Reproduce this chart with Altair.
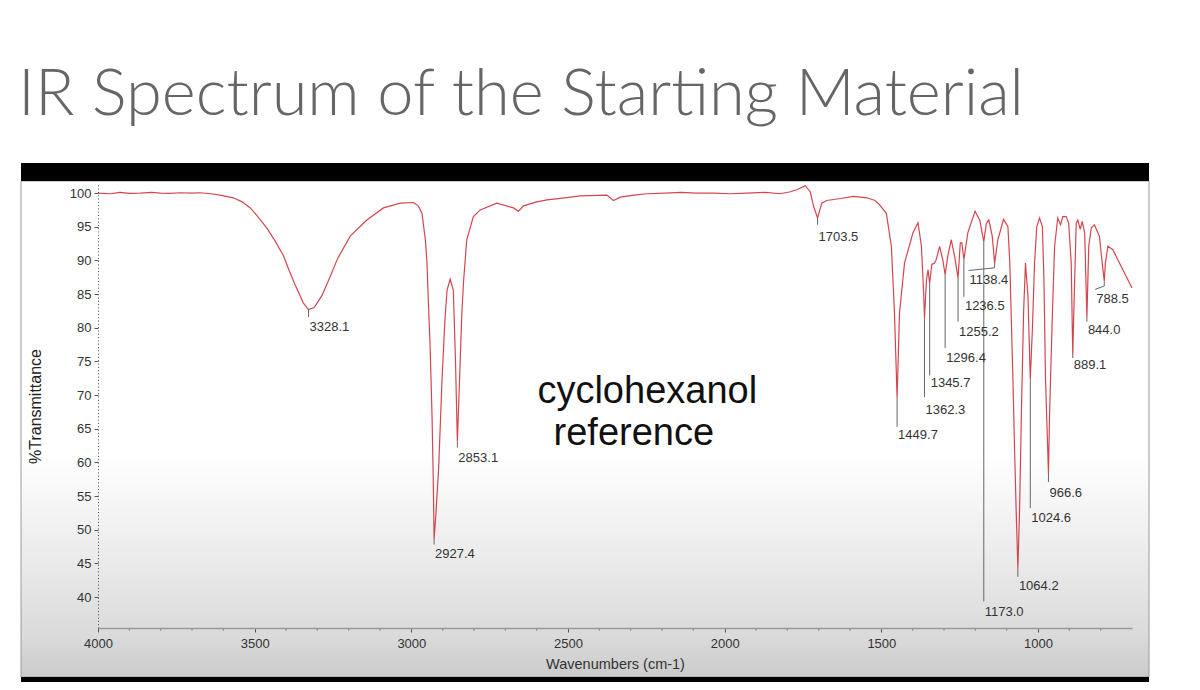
import altair as alt
import pandas as pd

# ---------------- text ----------------
title_text = "IR Spectrum of the Starting Material"
x_title = "Wavenumbers (cm-1)"
y_title = "%Transmittance"
annotation_lines = ["cyclohexanol", "reference"]
annotation_wn = [2247, 2290]
annotation_T = [68.8, 62.6]

# ---------------- spectrum (wavenumber, %T) ----------------
spectrum_wn = [
    4000, 3960, 3930, 3900, 3865, 3830, 3800, 3770, 3738, 3700, 3674, 3640, 3610,
    3568, 3540, 3514, 3490, 3461, 3435, 3408, 3390, 3371, 3345, 3328.1, 3310, 3285,
    3260, 3235, 3195, 3142, 3089, 3035, 2993, 2978, 2966, 2955, 2950, 2945, 2940,
    2934, 2930, 2927.4, 2922, 2913, 2902, 2893, 2886, 2876, 2866, 2859, 2853.1, 2846,
    2839, 2833, 2823, 2802, 2780, 2727, 2674, 2658, 2642, 2600, 2567, 2510, 2461,
    2376, 2355, 2333, 2290, 2248, 2190, 2140, 2090, 2036, 1980, 1929, 1870, 1823,
    1790, 1770, 1743, 1727, 1716, 1703.5, 1690, 1674, 1630, 1589, 1546, 1520, 1506,
    1484, 1468, 1458, 1449.7, 1442, 1426, 1399, 1383, 1372, 1364.5, 1362.3, 1356,
    1351, 1345.7, 1339, 1330, 1325, 1314, 1304, 1296.4, 1288, 1277, 1266, 1255.2,
    1248, 1243, 1236.5, 1224, 1201, 1186, 1173.0, 1165, 1157, 1146, 1138.4, 1128,
    1110, 1096, 1090, 1080, 1075, 1069.5, 1064.2, 1059, 1053, 1046, 1040, 1032,
    1024.6, 1018, 1011, 1004, 995, 986, 981, 976, 966.6, 963, 954, 947, 937, 928,
    921, 910, 902, 894, 889.1, 883, 878, 873, 865, 859, 851, 844.0, 838, 830, 820,
    804, 795, 788.5, 785, 777, 761, 740, 700,
]
spectrum_T = [
    100.0, 99.9, 100.1, 99.95, 100.0, 100.1, 100.0, 99.95, 100.05, 100.0, 100.05, 99.9, 99.7,
    99.3, 98.7, 97.8, 96.5, 94.8, 92.9, 90.7, 88.5, 86.4, 83.7, 82.7, 83.0, 84.8,
    87.5, 90.3, 93.6, 96.0, 97.8, 98.5, 98.6, 98.1, 97.0, 93.0, 89.6, 83.0, 77.2,
    67.0, 57.4, 48.6, 52.0, 59.0, 72.3, 81.0, 85.6, 87.2, 85.6, 75.0, 63.1, 72.3,
    82.0, 87.1, 93.1, 96.5, 97.5, 98.5, 97.8, 97.3, 98.1, 98.7, 99.0, 99.3, 99.6,
    99.7, 98.9, 99.4, 99.7, 99.9, 100.0, 100.1, 100.0, 100.0, 99.9, 100.0, 100.1, 99.9,
    100.2, 100.5, 101.1, 100.2, 98.0, 96.3, 98.5, 98.9, 99.2, 99.5, 99.3, 98.9, 98.3,
    97.0, 92.1, 82.2, 69.6, 82.2, 89.6, 94.1, 95.6, 92.1, 84.6, 81.4, 87.1,
    88.6, 86.6, 89.4, 89.6, 90.1, 92.1, 90.1, 87.9, 90.6, 93.1, 90.6, 87.4,
    92.6, 92.6, 90.1, 94.1, 97.3, 96.0, 92.8, 95.5, 96.0, 93.6, 89.6, 93.1,
    96.1, 95.0, 89.6, 72.3, 62.4, 52.5, 44.3, 52.5, 67.3, 82.2, 89.6, 84.6,
    72.3, 79.7, 89.6, 95.0, 96.3, 95.0, 87.1, 72.3, 58.4, 67.3, 82.2, 92.1, 96.3, 95.3,
    96.5, 96.5, 95.5, 89.6, 76.0, 87.1, 95.5, 96.0, 94.6, 95.8, 94.1, 81.5, 92.1, 94.8, 95.3,
    93.6, 89.6, 86.9, 89.6, 92.1, 91.6, 89.6, 85.9,
]

# ---------------- peak labels ----------------
peak_labels = ["3328.1", "2927.4", "2853.1", "1703.5", "1449.7", "1362.3", "1345.7",
               "1296.4", "1255.2", "1236.5", "1173.0", "1138.4", "1064.2", "1024.6",
               "966.6", "889.1", "844.0", "788.5"]
peak_wn = [3328.1, 2927.4, 2853.1, 1703.5, 1449.7, 1362.3, 1345.7, 1296.4, 1255.2,
           1236.5, 1173.0, 1138.4, 1064.2, 1024.6, 966.6, 889.1, 844.0, 788.5]
peak_tip_T = [82.7, 48.6, 63.1, 96.3, 69.6, 81.4, 86.6, 87.9, 87.4, 90.1, 92.8, 89.6,
              44.3, 72.3, 58.4, 76.0, 81.5, 86.9]
leader_end_T = [81.6, 47.8, 62.2, 95.3, 65.3, 69.7, 72.9, 77.0, 80.9, 84.6, 39.35, 88.9,
                43.0, 53.2, 57.1, 75.5, 80.9, 86.2]
label_wn = [3328.1, 2927.4, 2853.1, 1703.5, 1449.7, 1362.3, 1345.7, 1296.4, 1255.2,
            1236.5, 1173.0, 1221.8, 1064.2, 1024.6, 966.6, 889.1, 844.0, 817.4]
label_T = [80.07, 46.4, 60.6, 93.55, 64.1, 67.8, 71.8, 75.5, 79.3, 83.2, 37.85, 87.1,
           41.6, 51.7, 55.4, 74.5, 79.6, 84.3]

elbow_from_wn = [1138.4, 788.5]
elbow_from_T = [88.9, 86.2]
elbow_to_wn = [1221.8, 817.4]
elbow_to_T = [88.5, 85.7]

x_major = [4000, 3500, 3000, 2500, 2000, 1500, 1000]
x_minor = [3900, 3800, 3700, 3600, 3400, 3300, 3200, 3100, 2900, 2800, 2700, 2600,
           2400, 2300, 2200, 2100, 1900, 1800, 1700, 1600, 1400, 1300, 1200, 1100,
           900, 800]
y_major = [40, 45, 50, 55, 60, 65, 70, 75, 80, 85, 90, 95, 100]

W, H = 1034, 444
xs = alt.Scale(domain=[4000, 700], nice=False, zero=False)
ys = alt.Scale(domain=[35.4, 101.35], nice=False, zero=False)

spec_df = pd.DataFrame({"idx": list(range(len(spectrum_wn))), "wn": spectrum_wn, "T": spectrum_T})
peak_df = pd.DataFrame({"label": peak_labels, "wn": peak_wn, "tip": peak_tip_T,
                        "end": leader_end_T, "lx": label_wn, "ly": label_T})
elbow_df = pd.DataFrame({"x1": elbow_from_wn, "y1": elbow_from_T, "x2": elbow_to_wn, "y2": elbow_to_T})
minor_df = pd.DataFrame({"wn": x_minor, "T": [35.4] * len(x_minor)})
ann_df = pd.DataFrame({"t": annotation_lines, "wn": annotation_wn, "T": annotation_T})
title_df = pd.DataFrame({"t": [title_text]})
one = pd.DataFrame({"k": [0]})

FONT = "Liberation Sans"

gradient = alt.LinearGradient(
    gradient="linear",
    stops=[
        alt.GradientStop(color="#ffffff", offset=0),
        alt.GradientStop(color="#ffffff", offset=0.55),
        alt.GradientStop(color="#ebebeb", offset=0.76),
        alt.GradientStop(color="#dadada", offset=0.92),
        alt.GradientStop(color="#cbcbcb", offset=1),
    ],
    x1=0, x2=0, y1=0, y2=1,
)

x_axis = alt.Axis(values=x_major, format="d", tickSize=4, tickColor="#555555", tickWidth=1,
                  domainColor="#9a9a9a", domainWidth=1.5, grid=False, labelFlush=False,
                  labelFont=FONT, labelFontSize=13, labelColor="#333333", labelPadding=5,
                  title=x_title, titleFont=FONT, titleFontSize=14.5, titleFontWeight="normal",
                  titleColor="#333333", titleY=40, titleBaseline="alphabetic", zindex=1)
y_axis = alt.Axis(values=y_major, tickSize=4, tickColor="#555555", tickWidth=1,
                  domainColor="#444444", domainDash=[1, 2.3], domainWidth=1, grid=False,
                  labelFont=FONT, labelFontSize=13, labelColor="#333333", labelPadding=3,
                  title=y_title, titleFont=FONT, titleFontSize=16, titleFontWeight="normal",
                  titleColor="#222222", titleAngle=270, titleX=-57.5, titleY=222,
                  titleBaseline="alphabetic", titleAlign="center", zindex=1)


def X(field):
    return alt.X(field, type="quantitative", scale=xs, axis=x_axis)


def Y(field):
    return alt.Y(field, type="quantitative", scale=ys, axis=y_axis)


panel = alt.Chart(one).mark_rect(fill=gradient, stroke="#9a9a9a", strokeWidth=1).encode(
    x=alt.value(-77), x2=alt.value(1051), y=alt.value(-3), y2=alt.value(493))
top_bar = alt.Chart(one).mark_rect(color="black").encode(
    x=alt.value(-77), x2=alt.value(1051), y=alt.value(-21), y2=alt.value(-3))
bottom_bar = alt.Chart(one).mark_rect(color="black").encode(
    x=alt.value(-77), x2=alt.value(1051), y=alt.value(493), y2=alt.value(498))

spectrum = alt.Chart(spec_df).mark_line(color="#d4464f", strokeWidth=1.2).encode(
    x=X("wn"), y=Y("T"), order="idx:Q")

minor_ticks = alt.Chart(minor_df).mark_tick(
    color="#555555", thickness=1.3, size=2.5, orient="vertical", yOffset=1.25).encode(
    x=X("wn"), y=Y("T"))

leaders = alt.Chart(peak_df).mark_rule(color="#666666", strokeWidth=1).encode(
    x=X("wn"), y=Y("tip"), y2="end:Q")

elbows = alt.Chart(elbow_df).mark_rule(color="#666666", strokeWidth=1).encode(
    x=X("x1"), x2="x2:Q", y=Y("y1"), y2="y2:Q")

labels = alt.Chart(peak_df).mark_text(align="left", baseline="middle", font=FONT,
                                      fontSize=13, color="#333333", dx=1).encode(
    x=X("lx"), y=Y("ly"), text="label:N")

annotation = alt.Chart(ann_df).mark_text(align="center", baseline="alphabetic", font=FONT,
                                         fontSize=38, color="#111111").encode(
    x=X("wn"), y=Y("T"), text="t:N")

title = alt.Chart(title_df).mark_text(align="left", baseline="alphabetic", font="Lato",
                                      fontWeight=300, fontSize=65, color="#666666").encode(
    x=alt.value(-80), y=alt.value(-69), text="t:N")

chart = alt.layer(
    panel, top_bar, bottom_bar, spectrum, minor_ticks, leaders, elbows, labels, annotation, title
).properties(
    width=W, height=H,
    padding={"left": 98, "top": 184, "right": 68, "bottom": 62},
    autosize=alt.AutoSizeParams(type="none"),
    background="white",
).configure_view(stroke=None)

chart.save("out.html", embed_options={"renderer": "svg", "actions": False})
